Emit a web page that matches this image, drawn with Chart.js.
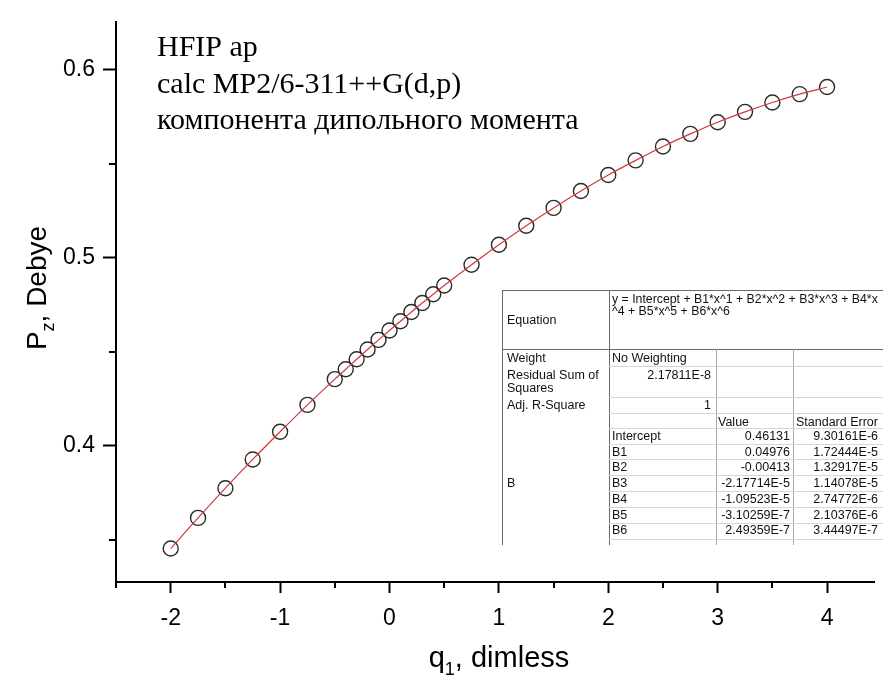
<!DOCTYPE html>
<html>
<head>
<meta charset="utf-8">
<script src="https://cdn.jsdelivr.net/npm/chart.js@4"></script>
<style>
html,body{margin:0;padding:0;background:#fff;overflow:hidden;}
#wrap{position:relative;width:883px;height:684px;overflow:hidden;}
#c{position:absolute;left:0;top:0;}
#fit{position:absolute;left:0;top:0;width:883px;height:684px;font-family:"Liberation Sans",Arial,sans-serif;font-size:12.5px;color:#111;pointer-events:none;}
#fit .t{position:absolute;white-space:nowrap;line-height:14px;}
#fit .eq{font-size:12.3px;}
#fit .l{position:absolute;}
</style>
</head>
<body>
<div id="wrap">
<canvas id="c" width="883" height="684"></canvas>
<div id="fit"></div>
</div>
<script>
// ---- data ----
const qValues = [-2,-1.75,-1.5,-1.25,-1,-0.75,-0.5,-0.4,-0.3,-0.2,-0.1,0,0.1,0.2,0.3,0.4,0.5,0.75,1,1.25,1.5,1.75,2,2.25,2.5,2.75,3,3.25,3.5,3.75,4];
const pzValues = [0.3453,0.3616,0.3774,0.3927,0.4074,0.4217,0.4354,0.4407,0.4460,0.4512,0.4563,0.4613,0.4662,0.4711,0.4759,0.4806,0.4852,0.4963,0.5069,0.5170,0.5265,0.5355,0.5440,0.5518,0.5592,0.5659,0.5721,0.5776,0.5826,0.5870,0.5908];
const xTickValues = [-2,-1,0,1,2,3,4];
const xMinorTicks = [-2.5,-1.5,-0.5,0.5,1.5,2.5,3.5];
const yTickValues = [0.4,0.5,0.6];
const yMinorTicks = [0.35,0.45,0.55];
const noteLines = ['HFIP ap','calc MP2/6-311++G(d,p)','компонента дипольного момента'];
const equationLines = ['y = Intercept + B1*x^1 + B2*x^2 + B3*x^3 + B4*x','^4 + B5*x^5 + B6*x^6'];
const weightText = 'No Weighting';
const rssText = '2.17811E-8';
const adjR2Text = '1';
const paramNames = ['Intercept','B1','B2','B3','B4','B5','B6'];
const paramValues = ['0.46131','0.04976','-0.00413','-2.17714E-5','-1.09523E-5','-3.10259E-7','2.49359E-7'];
const paramErrors = ['9.30161E-6','1.72444E-5','1.32917E-5','1.14078E-5','2.74772E-6','2.10376E-6','3.44497E-7'];

// ---- fit table (HTML text) ----
const fit = document.getElementById('fit');
function txt(x, y, s, align, cls){
  const d = document.createElement('div');
  d.className = 't' + (cls ? ' ' + cls : '');
  d.textContent = s;
  d.style.top = (y - 7) + 'px';
  if (align === 'right') { d.style.right = (883 - x) + 'px'; }
  else { d.style.left = x + 'px'; }
  fit.appendChild(d);
}
function hline(x1, x2, y, c){
  const d = document.createElement('div'); d.className='l';
  d.style.left=x1+'px'; d.style.top=y+'px'; d.style.width=(x2-x1)+'px'; d.style.height='1px'; d.style.background=c;
  fit.appendChild(d);
}
function vline(x, y1, y2, c){
  const d = document.createElement('div'); d.className='l';
  d.style.left=x+'px'; d.style.top=y1+'px'; d.style.height=(y2-y1)+'px'; d.style.width='1px'; d.style.background=c;
  fit.appendChild(d);
}
const dark = '#6a6a6a', light = '#d6d6d6', mid = '#a8a8a8';
const T = {left:502, c2:609, c3:716, c4:793, right:883, top:290, eqBottom:349, bottom:545};
hline(T.left, T.right, T.top, dark);
hline(T.left, T.right, T.eqBottom, dark);
vline(T.left, T.top, T.bottom, dark);
vline(T.c2, T.top, T.bottom, dark);
vline(T.c3, T.eqBottom, T.bottom, mid);
vline(T.c4, T.eqBottom, T.bottom, mid);
[366, 397, 413, 428, 443.5, 459.3, 475, 491, 506.7, 522.7, 538.5].forEach(y => hline(T.c2, T.right, Math.round(y), light));
txt(507, 320, 'Equation');
txt(612, 299, equationLines[0], null, 'eq');
txt(612, 311, equationLines[1], null, 'eq');
txt(507, 358, 'Weight');
txt(612, 358, weightText);
txt(507, 375, 'Residual Sum of');
txt(507, 388, 'Squares');
txt(711, 375, rssText, 'right');
txt(507, 405, 'Adj. R-Square');
txt(711, 405, adjR2Text, 'right');
txt(718, 422, 'Value');
txt(796, 422, 'Standard Error');
txt(507, 483, 'B');
paramNames.forEach((n, i) => {
  const y = 436 + i * 15.7;
  txt(612, y, n);
  txt(790, y, paramValues[i], 'right');
  txt(878, y, paramErrors[i], 'right');
});

// ---- chart ----
const points = qValues.map((q, i) => ({x: q, y: pzValues[i]}));

function drawSubText(ctx, parts, x, y, align){
  // parts: [text, size, dy]
  let w = 0;
  parts.forEach(p => { ctx.font = p[1] + 'px "Liberation Sans", Arial, sans-serif'; w += ctx.measureText(p[0]).width; });
  let cx = align === 'center' ? x - w / 2 : x;
  parts.forEach(p => {
    ctx.font = p[1] + 'px "Liberation Sans", Arial, sans-serif';
    ctx.fillText(p[0], cx, y + p[2]);
    cx += ctx.measureText(p[0]).width;
  });
}

const decor = {
  id: 'decor',
  afterDraw(chart){
    const ctx = chart.ctx, xs = chart.scales.x, ys = chart.scales.y, ca = chart.chartArea;
    ctx.save();
    ctx.strokeStyle = '#000'; ctx.lineWidth = 2;
    xMinorTicks.forEach(v => {
      const px = Math.round(xs.getPixelForValue(v));
      ctx.beginPath(); ctx.moveTo(px, ca.bottom); ctx.lineTo(px, ca.bottom + 6); ctx.stroke();
    });
    yMinorTicks.forEach(v => {
      const py = Math.round(ys.getPixelForValue(v));
      ctx.beginPath(); ctx.moveTo(ca.left, py); ctx.lineTo(ca.left - 7, py); ctx.stroke();
    });
    ctx.fillStyle = '#000';
    ctx.textBaseline = 'alphabetic';
    ctx.textAlign = 'left';
    // x title
    drawSubText(ctx, [['q', 29, 0], ['1', 18, 8], [', dimless', 29, 0]], 499, 667, 'center');
    // y title
    ctx.save();
    ctx.translate(46, 288);
    ctx.rotate(-Math.PI / 2);
    drawSubText(ctx, [['P', 28, 0], ['z', 18, 8], [', Debye', 28, 0]], 0, 0, 'center');
    ctx.restore();
    // notes
    ctx.font = '30px "Liberation Serif", "Times New Roman", serif';
    noteLines.forEach((s, i) => ctx.fillText(s, 157, 56 + i * 36.5));
    ctx.restore();
  }
};

new Chart(document.getElementById('c'), {
  type: 'scatter',
  data: {
    datasets: [
      {label: 'fit', data: points, showLine: true, borderColor: '#d0393b', borderWidth: 1.2,
       pointRadius: 0, cubicInterpolationMode: 'monotone', order: 0},
      {label: 'Pz', data: points, showLine: false, pointRadius: 7.5, pointStyle: 'circle',
       backgroundColor: 'rgba(0,0,0,0)', borderColor: '#2a2a2a', borderWidth: 1.4, order: 1}
    ]
  },
  options: {
    responsive: false, animation: false, devicePixelRatio: 1,
    layout: {padding: {top: 12, left: 0, right: 0, bottom: 0}},
    plugins: {legend: {display: false}, tooltip: {enabled: false}},
    scales: {
      x: {
        type: 'linear', min: -2.5, max: 4.43,
        afterBuildTicks: s => { s.ticks = xTickValues.map(v => ({value: v})); },
        afterFit: s => { s.height = 102; },
        grid: {drawOnChartArea: false, drawTicks: true, tickLength: 11, tickWidth: 2, tickColor: '#000'},
        border: {display: true, color: '#000', width: 2},
        ticks: {color: '#000', font: {family: '"Liberation Sans", Arial, sans-serif', size: 23}, padding: 12,
                maxRotation: 0, autoSkip: false, callback: v => String(v)}
      },
      y: {
        type: 'linear', min: 0.3275, max: 0.6255,
        afterBuildTicks: s => { s.ticks = yTickValues.map(v => ({value: v})); },
        afterFit: s => { s.width = 116; },
        grid: {drawOnChartArea: false, drawTicks: true, tickLength: 13, tickWidth: 2, tickColor: '#000'},
        border: {display: true, color: '#000', width: 2},
        ticks: {color: '#000', font: {family: '"Liberation Sans", Arial, sans-serif', size: 23}, padding: 8,
                autoSkip: false, callback: v => v.toFixed(1)}
      }
    }
  },
  plugins: [decor]
});
</script>
</body>
</html>
